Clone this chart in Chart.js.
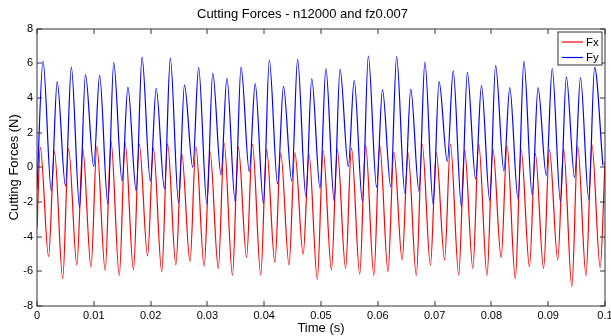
<!DOCTYPE html>
<html>
<head>
<meta charset="utf-8">
<script src="https://cdn.jsdelivr.net/npm/chart.js@4.4.0/dist/chart.umd.min.js"></script>
<style>
  html, body { margin: 0; padding: 0; background: #fff; }
  #wrap { width: 611px; height: 336px; }
</style>
</head>
<body>
<div id="wrap"><canvas id="forces" width="611" height="336"></canvas></div>
<script>
// values: one peak and one trough per tooth pass (40 passes)
const fxPeakT = [0.00058, 0.00307, 0.00556, 0.00805, 0.01054, 0.01303, 0.01552, 0.01801, 0.0205, 0.02299,
  0.02548, 0.02797, 0.03046, 0.03295, 0.03544, 0.03793, 0.04042, 0.04291, 0.0454, 0.04789,
  0.05038, 0.05287, 0.05536, 0.05785, 0.06034, 0.06283, 0.06532, 0.06781, 0.0703, 0.07279,
  0.07528, 0.07777, 0.08026, 0.08275, 0.08524, 0.08773, 0.09022, 0.09271, 0.0952, 0.09769];
const fxPeak = [1.15, 0.92, 1.08, 1.08, 1.22, 1.48, 1.38, 1.34, 1.1, 1.35,
  0.77, 1.19, 0.9, 1.38, 1.16, 1.34, 1.05, 0.84, 0.85, 0.76,
  0.95, 1.02, 1.12, 1.28, 1.27, 0.88, 0.85, 1.34, 0.83, 1.34,
  1.0, 1.34, 1.05, 1.25, 1.02, 0.81, 1.02, 1.05, 1.19, 1.32];

const fxTroughT = [0.00204, 0.00453, 0.00702, 0.00951, 0.012, 0.01449, 0.01698, 0.01947, 0.02196, 0.02445,
  0.02694, 0.02943, 0.03192, 0.03441, 0.0369, 0.03939, 0.04188, 0.04437, 0.04686, 0.04935,
  0.05184, 0.05433, 0.05682, 0.05931, 0.0618, 0.06429, 0.06678, 0.06927, 0.07176, 0.07425,
  0.07674, 0.07923, 0.08172, 0.08421, 0.0867, 0.08919, 0.09168, 0.09417, 0.09666, 0.09915];
const fxTrough = [-5.15, -6.42, -5.63, -5.75, -5.94, -6.23, -5.92, -5.11, -6.03, -5.63,
  -5.44, -5.71, -5.84, -6.23, -5.21, -6.21, -5.5, -5.63, -5.02, -6.46,
  -5.92, -5.84, -6.17, -6.23, -6.02, -5.34, -6.23, -5.65, -5.34, -6.21,
  -5.84, -6.23, -5.21, -6.42, -5.73, -5.84, -5.34, -6.88, -6.23, -5.79];

const fxEdgeT = [0, 0.1];
const fxEdge = [-3.5, 0.3];

const fyPeakT = [0.00106, 0.00355, 0.00604, 0.00853, 0.01102, 0.01351, 0.016, 0.01849, 0.02098, 0.02347,
  0.02596, 0.02845, 0.03094, 0.03343, 0.03592, 0.03841, 0.0409, 0.04339, 0.04588, 0.04837,
  0.05086, 0.05335, 0.05584, 0.05833, 0.06082, 0.06331, 0.0658, 0.06829, 0.07078, 0.07327,
  0.07576, 0.07825, 0.08074, 0.08323, 0.08572, 0.08821, 0.0907, 0.09319, 0.09568, 0.09817];
const fyPeak = [6.13, 4.94, 5.78, 5.35, 5.3, 6.04, 4.63, 6.35, 4.56, 6.3,
  4.75, 5.75, 5.44, 5.15, 5.78, 4.83, 6.19, 4.67, 6.22, 5.11,
  5.69, 5.65, 5.02, 6.42, 4.48, 6.38, 4.51, 6.07, 4.96, 5.56,
  5.48, 4.71, 5.87, 4.6, 6.11, 4.6, 5.7, 5.21, 5.18, 5.76];

const fyTroughT = [0.00252, 0.00501, 0.0075, 0.00999, 0.01248, 0.01497, 0.01746, 0.01995, 0.02244, 0.02493,
  0.02742, 0.02991, 0.0324, 0.03489, 0.03738, 0.03987, 0.04236, 0.04485, 0.04734, 0.04983,
  0.05232, 0.05481, 0.0573, 0.05979, 0.06228, 0.06477, 0.06726, 0.06975, 0.07224, 0.07473,
  0.07722, 0.07971, 0.0822, 0.08469, 0.08718, 0.08967, 0.09216, 0.09465, 0.09714, 0.09963];
const fyTrough = [-1.37, -1.08, -2.3, 0.04, -2.12, -0.79, -1.35, -0.8, -1.24, -2.06,
  0.0, -2.12, -0.44, -1.98, -0.25, -2.08, -0.96, -0.79, -1.69, -1.2,
  -1.92, 0.04, -1.98, -1.15, -1.12, -1.5, -1.4, -2.13, 0.33, -2.27,
  -0.69, -1.92, -0.21, -1.83, -1.6, -0.48, -1.98, -0.6, -1.83, 0.1];

const fyEdgeT = [0];
const fyEdge = [-1.25];

const xTicks = [0, 0.01, 0.02, 0.03, 0.04, 0.05, 0.06, 0.07, 0.08, 0.09, 0.1];
const xTickLabels = ['0', '0.01', '0.02', '0.03', '0.04', '0.05', '0.06', '0.07', '0.08', '0.09', '0.1'];
const yTicks = [-8, -6, -4, -2, 0, 2, 4, 6, 8];

const FONT = "'Liberation Sans', Arial, Helvetica, sans-serif";

// merge (time, value) pairs into one sorted point list
function series(parts) {
  const pts = [];
  parts.forEach(([ts, vs]) => ts.forEach((t, i) => pts.push({ x: t, y: vs[i] })));
  return pts.sort((a, b) => a.x - b.x);
}

// matlab style box, inward ticks on all four sides, and legend
const matlabBox = {
  id: 'matlabBox',
  afterDatasetsDraw(chart) {
    const { ctx, chartArea: a, scales: { x, y } } = chart;
    const L = Math.round(a.left), R = Math.round(a.right);
    const T = Math.round(a.top), B = Math.round(a.bottom);
    ctx.save();
    ctx.strokeStyle = '#333';
    ctx.lineWidth = 1;
    ctx.beginPath();
    xTicks.forEach(v => {
      const px = Math.round(x.getPixelForValue(v));
      ctx.moveTo(px, B); ctx.lineTo(px, B - 5);
      ctx.moveTo(px, T); ctx.lineTo(px, T + 5);
    });
    yTicks.forEach(v => {
      const py = Math.round(y.getPixelForValue(v));
      ctx.moveTo(L, py); ctx.lineTo(L + 5, py);
      ctx.moveTo(R, py); ctx.lineTo(R - 5, py);
    });
    ctx.stroke();
    ctx.strokeRect(L, T, R - L, B - T);

    // legend box
    const bw = 44, bh = 33;
    const bx = R - 3 - bw, by = T + 3;
    ctx.fillStyle = '#fff';
    ctx.fillRect(bx, by, bw, bh);
    ctx.strokeStyle = '#333';
    ctx.strokeRect(bx, by, bw, bh);
    ctx.font = '11.5px ' + FONT;
    ctx.textBaseline = 'middle';
    ctx.textAlign = 'left';
    chart.data.datasets.forEach((ds, i) => {
      const ly = by + 10 + i * 15.5;
      ctx.strokeStyle = ds.borderColor;
      ctx.lineWidth = 1.2;
      ctx.beginPath();
      ctx.moveTo(bx + 4, ly);
      ctx.lineTo(bx + 25, ly);
      ctx.stroke();
      ctx.fillStyle = '#000';
      ctx.fillText(ds.label, bx + 28, ly + 0.5);
    });
    ctx.restore();
  }
};

new Chart(document.getElementById('forces'), {
  type: 'line',
  data: {
    datasets: [
      {
        label: 'Fx',
        data: series([[fxEdgeT, fxEdge], [fxPeakT, fxPeak], [fxTroughT, fxTrough]]),
        borderColor: '#ff0000',
        borderWidth: 1.2,
        pointRadius: 0,
        fill: false,
        cubicInterpolationMode: 'monotone',
        order: 1
      },
      {
        label: 'Fy',
        data: series([[fyEdgeT, fyEdge], [fyPeakT, fyPeak], [fyTroughT, fyTrough]]),
        borderColor: '#0000ff',
        borderWidth: 1.2,
        pointRadius: 0,
        fill: false,
        cubicInterpolationMode: 'monotone',
        order: 0
      }
    ]
  },
  options: {
    responsive: false,
    animation: false,
    devicePixelRatio: 1,
    layout: { padding: { left: 0, right: 6, top: 0, bottom: 0 } },
    plugins: {
      legend: { display: false },
      tooltip: { enabled: false },
      title: {
        display: true,
        text: 'Cutting Forces - n12000 and fz0.007',
        color: '#000',
        font: { family: FONT, size: 13, weight: 'normal' },
        padding: { top: 7, bottom: 6 }
      }
    },
    scales: {
      x: {
        type: 'linear',
        min: 0,
        max: 0.1,
        afterBuildTicks: s => { s.ticks = xTicks.map(v => ({ value: v })); },
        afterFit: s => { s.height = 30; s.paddingLeft = 0; s.paddingRight = 0; },
        grid: { display: false, drawTicks: false },
        border: { display: false },
        ticks: {
          padding: 3,
          maxRotation: 0,
          color: '#000',
          font: { family: FONT, size: 11 },
          callback: (v, i) => xTickLabels[i]
        },
        title: {
          display: true,
          text: 'Time (s)',
          color: '#000',
          font: { family: FONT, size: 13 },
          padding: { top: 0, bottom: 0 }
        }
      },
      y: {
        type: 'linear',
        min: -8,
        max: 8,
        afterBuildTicks: s => { s.ticks = yTicks.map(v => ({ value: v })); },
        afterFit: s => { s.width = 37; s.paddingTop = 0; s.paddingBottom = 0; },
        grid: { display: false, drawTicks: false },
        border: { display: false },
        ticks: {
          padding: 4,
          color: '#000',
          font: { family: FONT, size: 11 }
        },
        title: {
          display: true,
          text: 'Cutting Forces (N)',
          color: '#000',
          font: { family: FONT, size: 13 },
          padding: { top: 7, bottom: 0 }
        }
      }
    }
  },
  plugins: [matlabBox]
});
</script>
</body>
</html>
